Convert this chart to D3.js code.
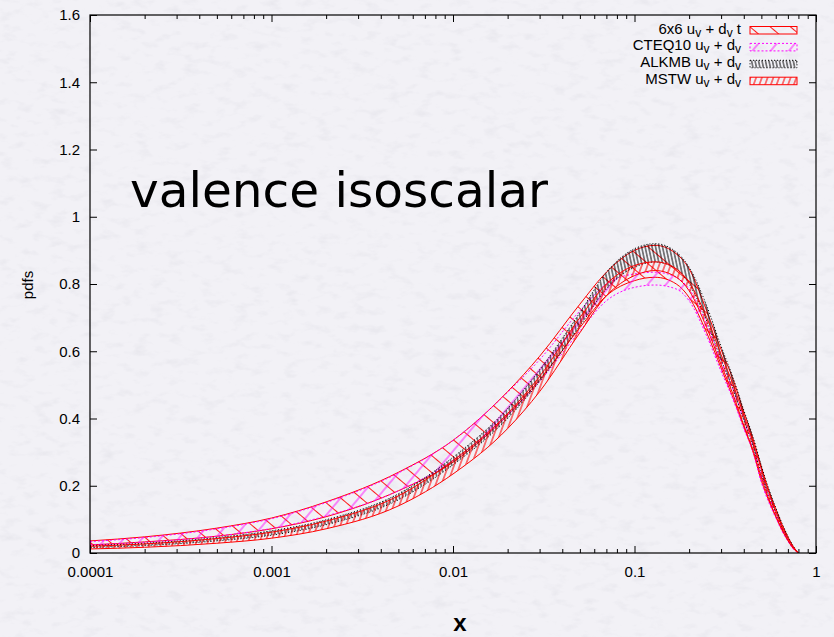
<!DOCTYPE html>
<html>
<head>
<meta charset="utf-8">
<script src="https://cdn.jsdelivr.net/npm/d3@7"></script>
<style>
  html, body { margin: 0; padding: 0; background: #f1f0f5; }
  svg { display: block; }
</style>
</head>
<body>
<svg id="chart"></svg>
<script>
// x grid shared by all bands
const xGrid = [1e-4, 2e-4, 5e-4, 1e-3, 2e-3, 5e-3, 0.01, 0.02, 0.03, 0.05, 0.07, 0.1, 0.13, 0.17,
  0.2, 0.25, 0.3, 0.35, 0.4, 0.45, 0.5, 0.55, 0.6, 0.65, 0.7, 0.75, 0.8];

// 6x6 uv + dv t
const sixLow  = [0.024, 0.033, 0.05, 0.072, 0.108, 0.185, 0.27, 0.41, 0.515, 0.67, 0.765, 0.81, 0.82, 0.80,
  0.76, 0.655, 0.55, 0.46, 0.375, 0.30, 0.215, 0.155, 0.108, 0.068, 0.037, 0.013, 0];
const sixHigh = [0.036, 0.048, 0.074, 0.104, 0.152, 0.24, 0.335, 0.48, 0.585, 0.74, 0.835, 0.90, 0.915, 0.89,
  0.845, 0.72, 0.605, 0.515, 0.42, 0.34, 0.255, 0.185, 0.132, 0.085, 0.048, 0.019, 0];

// CTEQ10 uv + dv
const cteqLow  = [0.024, 0.032, 0.05, 0.073, 0.11, 0.185, 0.275, 0.41, 0.51, 0.66, 0.75, 0.79, 0.797, 0.785,
  0.75, 0.645, 0.54, 0.455, 0.37, 0.30, 0.21, 0.15, 0.105, 0.065, 0.035, 0.012, 0];
const cteqHigh = [0.034, 0.046, 0.072, 0.102, 0.15, 0.238, 0.335, 0.478, 0.575, 0.72, 0.80, 0.83, 0.835, 0.82,
  0.785, 0.68, 0.57, 0.485, 0.40, 0.325, 0.235, 0.17, 0.118, 0.075, 0.042, 0.016, 0];

// ALKMB uv + dv
const alkmbLow  = [0.016, 0.022, 0.036, 0.053, 0.084, 0.158, 0.262, 0.40, 0.51, 0.675, 0.785, 0.85, 0.865, 0.845,
  0.80, 0.69, 0.575, 0.485, 0.395, 0.315, 0.235, 0.17, 0.12, 0.075, 0.042, 0.016, 0];
const alkmbHigh = [0.022, 0.029, 0.046, 0.066, 0.099, 0.176, 0.285, 0.43, 0.545, 0.715, 0.835, 0.905, 0.92, 0.895,
  0.85, 0.735, 0.615, 0.52, 0.425, 0.345, 0.26, 0.19, 0.135, 0.088, 0.05, 0.02, 0];

// MSTW uv + dv
const mstwLow  = [0.012, 0.017, 0.029, 0.044, 0.072, 0.14, 0.235, 0.37, 0.48, 0.655, 0.765, 0.825, 0.84, 0.82,
  0.78, 0.67, 0.56, 0.47, 0.38, 0.305, 0.225, 0.16, 0.11, 0.07, 0.038, 0.014, 0];
const mstwHigh = [0.02, 0.027, 0.043, 0.062, 0.095, 0.17, 0.275, 0.415, 0.525, 0.70, 0.80, 0.855, 0.866, 0.845,
  0.805, 0.70, 0.59, 0.50, 0.41, 0.33, 0.25, 0.18, 0.125, 0.08, 0.045, 0.018, 0];

const yTicks = [0, 0.2, 0.4, 0.6, 0.8, 1, 1.2, 1.4, 1.6];
const xTicks = [1e-4, 1e-3, 1e-2, 1e-1, 1];
const xTickLabels = ["0.0001", "0.001", "0.01", "0.1", "1"];

const width = 834, height = 637;
const svg = d3.select("#chart").attr("width", width).attr("height", height);

const x = d3.scaleLog().domain([1e-4, 1]).range([90, 816]);
const y = d3.scaleLinear().domain([0, 1.6]).range([553, 15]);

const defs = svg.append("defs");

// paper texture
const paper = defs.append("filter").attr("id", "paper")
  .attr("x", 0).attr("y", 0).attr("width", "100%").attr("height", "100%");
paper.append("feTurbulence")
  .attr("type", "fractalNoise")
  .attr("baseFrequency", "0.06 0.12")
  .attr("numOctaves", 3)
  .attr("seed", 7);
paper.append("feColorMatrix")
  .attr("type", "matrix")
  .attr("values", "0 0 0 0 0.6  0 0 0 0 0.6  0 0 0 0 0.66  2.4 0 0 0 -1.25");

svg.append("rect").attr("width", width).attr("height", height).attr("fill", "#f2f1f6");
svg.append("rect").attr("width", width).attr("height", height)
  .attr("filter", "url(#paper)").attr("opacity", 0.26);

// hatch patterns
function hatch(id, spacing, angle, color, sw) {
  const p = defs.append("pattern").attr("id", id)
    .attr("patternUnits", "userSpaceOnUse")
    .attr("width", spacing).attr("height", spacing)
    .attr("patternTransform", `rotate(${angle})`);
  p.append("line")
    .attr("x1", spacing / 2).attr("y1", 0)
    .attr("x2", spacing / 2).attr("y2", spacing)
    .attr("stroke", color).attr("stroke-width", sw);
}
hatch("h6x6", 13, -50, "#ff0000", 0.9);
hatch("hcteq", 14, 40, "#ff00ff", 0.9);
hatch("halkmb", 3.4, -12, "#000000", 0.9);
hatch("hmstw", 5.4, 20, "#ff0000", 1);

const bands = [
  {name: "6x6", lo: sixLow, hi: sixHigh, fill: "url(#h6x6)", stroke: "#ff0000", dash: null},
  {name: "CTEQ10", lo: cteqLow, hi: cteqHigh, fill: "url(#hcteq)", stroke: "#ff00ff", dash: "2,2"},
  {name: "ALKMB", lo: alkmbLow, hi: alkmbHigh, fill: "url(#halkmb)", stroke: "#000000", dash: "1,2"},
  {name: "MSTW", lo: mstwLow, hi: mstwHigh, fill: "url(#hmstw)", stroke: "#ff0000", dash: null}
];

defs.append("clipPath").attr("id", "plotclip")
  .append("rect").attr("x", 90).attr("y", 15).attr("width", 726).attr("height", 538);

const area = d3.area()
  .x(d => x(d.x))
  .y0(d => y(d.lo))
  .y1(d => y(d.hi))
  .curve(d3.curveMonotoneX);

const plot = svg.append("g").attr("clip-path", "url(#plotclip)");
bands.forEach(b => {
  const rows = xGrid.map((v, i) => ({x: v, lo: b.lo[i], hi: b.hi[i]}));
  plot.append("path")
    .datum(rows)
    .attr("d", area)
    .attr("fill", b.fill)
    .attr("stroke", b.stroke)
    .attr("stroke-width", 1)
    .attr("stroke-dasharray", b.dash);
});

// axes (gnuplot style, ticks inside on all sides)
const minorX = [];
for (let e = -4; e < 0; e++) {
  for (let m = 2; m <= 9; m++) minorX.push(m * Math.pow(10, e));
}

const tickFont = "'Liberation Sans', Arial, Helvetica, sans-serif";

svg.append("g").attr("transform", "translate(0,553)")
  .call(d3.axisBottom(x).tickValues(xTicks).tickSizeInner(-7).tickSizeOuter(0).tickPadding(13)
    .tickFormat((d, i) => xTickLabels[i]));
svg.append("g").attr("transform", "translate(0,553)")
  .call(d3.axisBottom(x).tickValues(minorX).tickSizeInner(-4).tickSizeOuter(0).tickFormat(""));
svg.append("g").attr("transform", "translate(0,15)")
  .call(d3.axisTop(x).tickValues(xTicks).tickSizeInner(-7).tickSizeOuter(0).tickFormat(""));
svg.append("g").attr("transform", "translate(0,15)")
  .call(d3.axisTop(x).tickValues(minorX).tickSizeInner(-4).tickSizeOuter(0).tickFormat(""));

svg.append("g").attr("transform", "translate(90,0)")
  .call(d3.axisLeft(y).tickValues(yTicks).tickSizeInner(-7).tickSizeOuter(0).tickPadding(10)
    .tickFormat(d3.format("")));
svg.append("g").attr("transform", "translate(816,0)")
  .call(d3.axisRight(y).tickValues(yTicks).tickSizeInner(-7).tickSizeOuter(0).tickFormat(""));

svg.selectAll(".domain").remove();
svg.selectAll(".tick line").attr("stroke", "#000");
svg.selectAll(".tick text")
  .attr("fill", "#000")
  .style("font-family", tickFont)
  .style("font-size", "15px");

// frame
svg.append("rect")
  .attr("x", 90).attr("y", 15).attr("width", 726).attr("height", 538)
  .attr("fill", "none").attr("stroke", "#000").attr("stroke-width", 1.2);

// axis titles
svg.append("text")
  .attr("transform", "translate(33,285) rotate(-90)")
  .attr("text-anchor", "middle")
  .style("font-family", tickFont)
  .style("font-size", "15px")
  .text("pdfs");

svg.append("text")
  .attr("x", 460).attr("y", 631)
  .attr("text-anchor", "middle")
  .style("font-family", tickFont)
  .style("font-size", "24px")
  .style("font-weight", "bold")
  .text("x");

// big label
svg.append("text")
  .attr("x", 130).attr("y", 207)
  .attr("textLength", 418)
  .attr("lengthAdjust", "spacingAndGlyphs")
  .style("font-family", "'DejaVu Sans', sans-serif")
  .style("font-size", "48px")
  .text("valence isoscalar");

// legend
const legendRows = [
  {label: "6x6", tail: " t", band: bands[0]},
  {label: "CTEQ10", tail: "", band: bands[1]},
  {label: "ALKMB", tail: "", band: bands[2]},
  {label: "MSTW", tail: "", band: bands[3]}
];
const legend = svg.append("g").style("font-family", tickFont).style("font-size", "15px");
legendRows.forEach((r, i) => {
  const base = 33.5 + i * 16.9;
  const t = legend.append("text").attr("x", 741).attr("y", base).attr("text-anchor", "end");
  t.append("tspan").text(r.label + " u");
  t.append("tspan").attr("dy", 3).style("font-size", "12px").text("v");
  t.append("tspan").attr("dy", -3).text(" + d");
  t.append("tspan").attr("dy", 3).style("font-size", "12px").text("v");
  if (r.tail) t.append("tspan").attr("dy", -3).text(r.tail);
  legend.append("rect")
    .attr("x", 750).attr("y", base - 7).attr("width", 47).attr("height", 7.5)
    .attr("fill", r.band.fill)
    .attr("stroke", r.band.stroke)
    .attr("stroke-width", 1)
    .attr("stroke-dasharray", r.band.dash);
});
</script>
</body>
</html>
